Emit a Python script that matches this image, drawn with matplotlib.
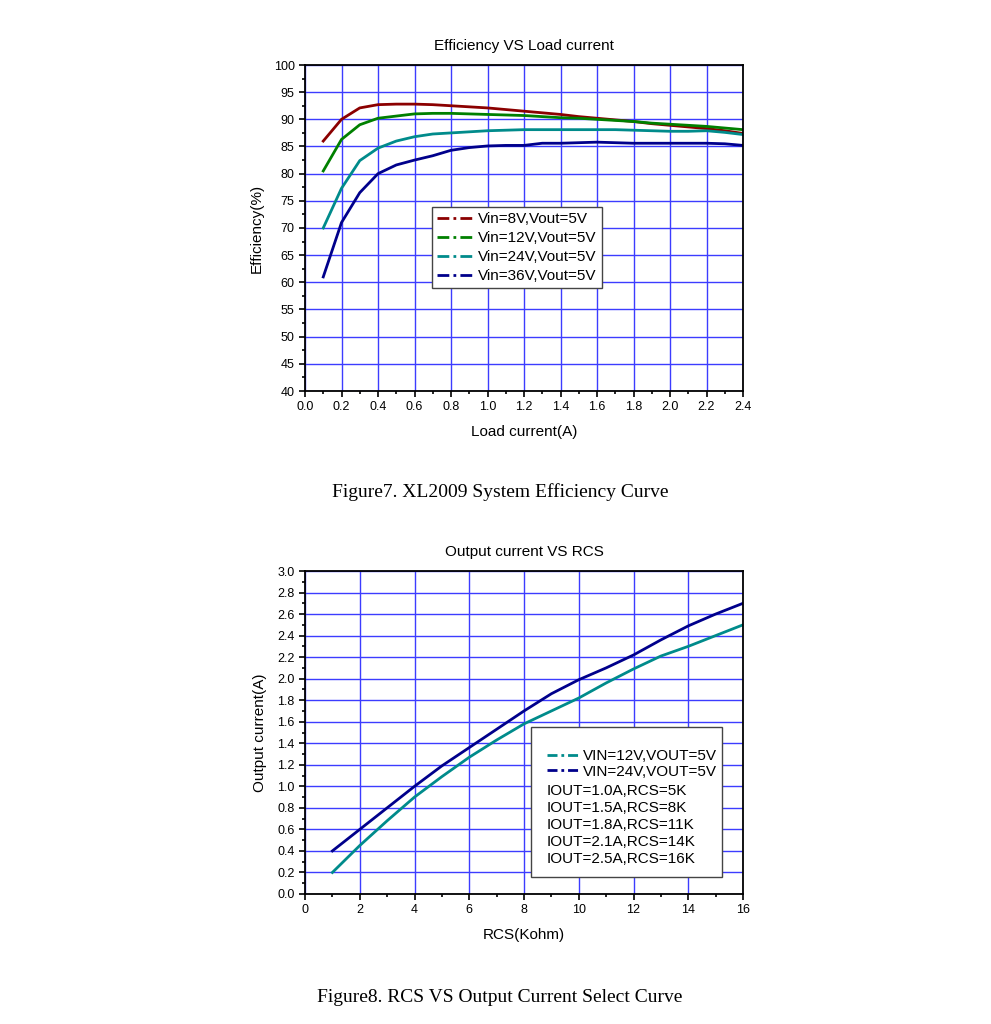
import matplotlib
matplotlib.use("Agg")
import matplotlib.pyplot as plt
from matplotlib.lines import Line2D
from matplotlib.patches import Rectangle
from matplotlib.ticker import MultipleLocator

plt.rcParams['font.family'] = ['Liberation Sans', 'DejaVu Sans']

# ---------------- Data: Efficiency VS Load current ----------------
load_current = [0.1, 0.2, 0.3, 0.4, 0.5, 0.6, 0.7, 0.8, 0.9, 1.0, 1.1, 1.2, 1.3, 1.4,
                1.5, 1.6, 1.7, 1.8, 1.9, 2.0, 2.1, 2.2, 2.3, 2.4]
eff_8v = [86.0, 90.0, 92.1, 92.7, 92.8, 92.8, 92.7, 92.5, 92.3, 92.1, 91.8, 91.5, 91.2, 90.9,
          90.5, 90.2, 89.9, 89.6, 89.2, 88.9, 88.6, 88.3, 87.9, 87.4]
eff_12v = [80.5, 86.3, 89.0, 90.2, 90.6, 91.0, 91.1, 91.1, 91.0, 90.9, 90.8, 90.7, 90.5, 90.3,
           90.2, 90.0, 89.8, 89.6, 89.3, 89.1, 88.9, 88.7, 88.4, 88.1]
eff_24v = [70.0, 77.3, 82.4, 84.7, 86.0, 86.8, 87.3, 87.5, 87.7, 87.9, 88.0, 88.1, 88.1, 88.1,
           88.1, 88.1, 88.1, 88.0, 87.9, 87.8, 87.8, 87.9, 87.6, 87.2]
eff_36v = [61.0, 71.0, 76.5, 80.0, 81.6, 82.5, 83.3, 84.3, 84.8, 85.1, 85.2, 85.2, 85.6, 85.6,
           85.7, 85.8, 85.7, 85.6, 85.6, 85.6, 85.6, 85.6, 85.5, 85.2]
eff_labels = ["Vin=8V,Vout=5V", "Vin=12V,Vout=5V", "Vin=24V,Vout=5V", "Vin=36V,Vout=5V"]
eff_colors = ["#8B0000", "#008000", "#008B8B", "#00008B"]

# ---------------- Data: Output current VS RCS ----------------
rcs = [1, 2, 3, 4, 5, 6, 7, 8, 9, 10, 11, 12, 13, 14, 15, 16]
iout_12v = [0.20, 0.45, 0.68, 0.90, 1.09, 1.27, 1.43, 1.58, 1.70, 1.82, 1.96, 2.09, 2.21, 2.30, 2.40, 2.50]
iout_24v = [0.40, 0.60, 0.80, 1.00, 1.19, 1.36, 1.53, 1.70, 1.86, 1.99, 2.10, 2.22, 2.36, 2.49, 2.60, 2.70]
rcs_labels = ["VIN=12V,VOUT=5V", "VIN=24V,VOUT=5V"]
rcs_colors = ["#008B8B", "#00008B"]
rcs_notes = ["IOUT=1.0A,RCS=5K", "IOUT=1.5A,RCS=8K", "IOUT=1.8A,RCS=11K",
             "IOUT=2.1A,RCS=14K", "IOUT=2.5A,RCS=16K"]

GRID = "#3c3cff"
FS = 11
TICKFS = 9
DASHDOT = (0, (4.25, 1.5, 1.0, 1.5))
DASHDOT2 = (0, (3.6, 1.4, 1.0, 1.4))

fig = plt.figure(figsize=(9.91, 10.24), dpi=100)


def style_axes(ax):
    ax.grid(True, which='major', color=GRID, linewidth=1.0)
    ax.set_axisbelow(True)
    for s in ax.spines.values():
        s.set_color('black')
        s.set_linewidth(1.3)
    ax.tick_params(which='both', direction='out', top=False, right=False, labelsize=TICKFS,
                   width=1.2)
    ax.tick_params(which='major', length=4)
    ax.tick_params(which='minor', length=2.5)


# ---------------- Top chart ----------------
ax1 = fig.add_axes([305 / 991, 1 - 391 / 1024, 438 / 991, 326 / 1024])
for y, c in zip([eff_8v, eff_12v, eff_24v, eff_36v], eff_colors):
    ax1.plot(load_current, y, color=c, linewidth=2.0, solid_joinstyle='round')
ax1.set_xlim(0, 2.4)
ax1.set_ylim(40, 100)
ax1.xaxis.set_major_locator(MultipleLocator(0.2))
ax1.xaxis.set_minor_locator(MultipleLocator(0.1))
ax1.yaxis.set_major_locator(MultipleLocator(5))
ax1.yaxis.set_minor_locator(MultipleLocator(2.5))
ax1.xaxis.set_major_formatter(matplotlib.ticker.FormatStrFormatter('%.1f'))
style_axes(ax1)
ax1.set_title("Efficiency VS Load current", fontsize=FS, pad=11)
ax1.set_xlabel("Load current(A)", fontsize=FS, labelpad=8)
ax1.set_ylabel("Efficiency(%)", fontsize=FS, labelpad=7)

handles1 = [Line2D([], [], color=c, linewidth=2.0, linestyle=DASHDOT) for c in eff_colors]
leg1 = ax1.legend(handles1, eff_labels, loc='upper left', bbox_to_anchor=(0.290, 0.564),
                  fontsize=FS, frameon=True, fancybox=False, edgecolor='#444444',
                  handlelength=2.3, handletextpad=0.35, labelspacing=0.32,
                  borderpad=0.35, borderaxespad=0)
leg1.get_frame().set_linewidth(1.0)
leg1.get_frame().set_alpha(1)

# ---------------- Bottom chart ----------------
ax2 = fig.add_axes([305 / 991, 1 - 894 / 1024, 438 / 991, 323 / 1024])
for y, c in zip([iout_12v, iout_24v], rcs_colors):
    ax2.plot(rcs, y, color=c, linewidth=2.0, solid_joinstyle='round')
ax2.set_xlim(0, 16)
ax2.set_ylim(0, 3.0)
ax2.xaxis.set_major_locator(MultipleLocator(2))
ax2.xaxis.set_minor_locator(MultipleLocator(1))
ax2.yaxis.set_major_locator(MultipleLocator(0.2))
ax2.yaxis.set_minor_locator(MultipleLocator(0.1))
ax2.yaxis.set_major_formatter(matplotlib.ticker.FormatStrFormatter('%.1f'))
style_axes(ax2)
ax2.set_title("Output current VS RCS", fontsize=FS, pad=11)
ax2.set_xlabel("RCS(Kohm)", fontsize=FS, labelpad=8)
ax2.set_ylabel("Output current(A)", fontsize=FS, labelpad=7)

# legend frame
x0, y0 = (531 - 305) / 438, (894 - 877) / 323
x1, y1 = (722 - 305) / 438, (894 - 727) / 323
ax2.add_patch(Rectangle((x0, y0), x1 - x0, y1 - y0, transform=ax2.transAxes,
                        facecolor='white', edgecolor='#444444', linewidth=1.0, zorder=5))
handles2 = [Line2D([], [], color=c, linewidth=2.0, linestyle=DASHDOT2) for c in rcs_colors]
leg2 = ax2.legend(handles2, rcs_labels, loc='upper left',
                  bbox_to_anchor=((547 - 305) / 438, (894 - 749) / 323),
                  fontsize=FS, frameon=False, handlelength=2.0, handletextpad=0.35,
                  labelspacing=0.1, borderpad=0, borderaxespad=0)
leg2.set_zorder(6)
note_x = (547 - 305) / 438
for i, t in enumerate(rcs_notes):
    ax2.text(note_x, (894 - (791 + 17 * i)) / 323, t, transform=ax2.transAxes,
             fontsize=FS, va='center', ha='left', zorder=7)

# ---------------- Captions ----------------
fig.text(500 / 991, 1 - 492 / 1024, "Figure7. XL2009 System Efficiency Curve",
         family=['Liberation Serif', 'DejaVu Serif'], fontsize=14, ha='center', va='center')
fig.text(500 / 991, 1 - 997 / 1024, "Figure8. RCS VS Output Current Select Curve",
         family=['Liberation Serif', 'DejaVu Serif'], fontsize=14, ha='center', va='center')

fig.savefig("out.png", dpi=100, facecolor='white')
